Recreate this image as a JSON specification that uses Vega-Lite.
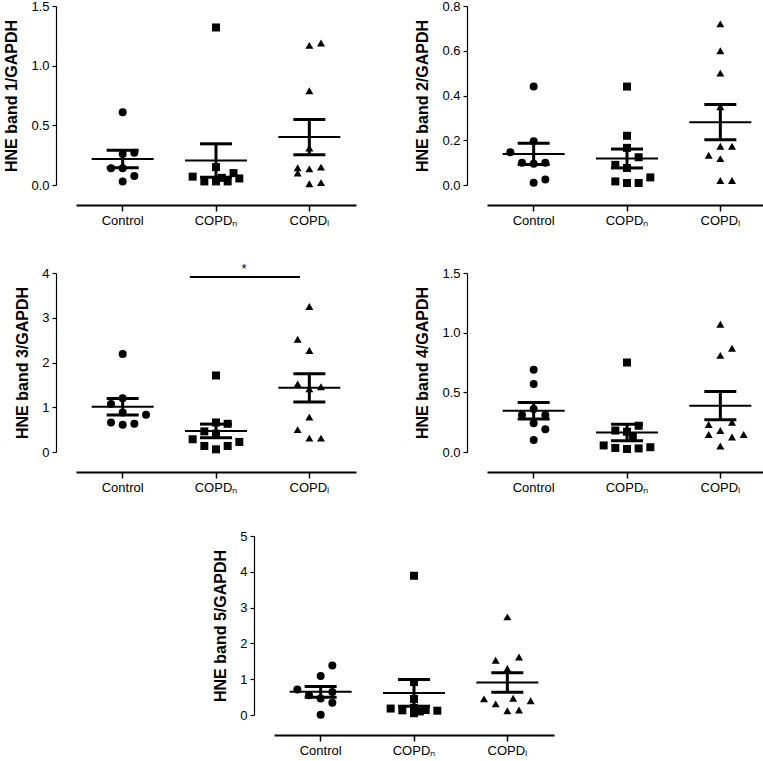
{
  "$schema": "https://vega.github.io/schema/vega-lite/v6.json",
  "padding": {"left": 3, "top": 0, "right": 0, "bottom": 0},
  "background": "white",
  "center": true,
  "spacing": 36,
  "config": {
    "view": {"stroke": null},
    "font": "Liberation Sans",
    "tick": {"opacity": 1},
    "axis": {"grid": false, "domainColor": "black", "tickColor": "black", "labelColor": "black", "titleColor": "black", "labelFont": "Liberation Sans", "titleFont": "Liberation Sans", "labelFontSize": 13, "titleFontSize": 16, "titleFontWeight": "bold", "offset": 20},
    "axisX": {"domainWidth": 2, "tickSize": 6, "tickWidth": 1.5, "labelPadding": 3, "labelAngle": 0},
    "axisY": {"domainWidth": 1.2, "tickSize": 4, "tickWidth": 1.2, "labelPadding": 3, "titlePadding": 11}
  },
  "vconcat": [
    {
      "spacing": 58,
      "hconcat": [
        {
          "width": 280, "height": 179,
          "data": {"values": [
            {"group": "Control", "jitter": 0, "value": 0.61},
            {"group": "Control", "jitter": 0, "value": 0.26},
            {"group": "Control", "jitter": 1, "value": 0.27},
            {"group": "Control", "jitter": -1, "value": 0.14},
            {"group": "Control", "jitter": 0, "value": 0.14},
            {"group": "Control", "jitter": 1, "value": 0.075},
            {"group": "Control", "jitter": 0, "value": 0.03},
            {"group": "COPDₙ", "jitter": 0, "value": 1.32},
            {"group": "COPDₙ", "jitter": -2, "value": 0.07},
            {"group": "COPDₙ", "jitter": -1, "value": 0.03},
            {"group": "COPDₙ", "jitter": 0, "value": 0.03},
            {"group": "COPDₙ", "jitter": 1, "value": 0.03},
            {"group": "COPDₙ", "jitter": 0, "value": 0.15},
            {"group": "COPDₙ", "jitter": 0.5, "value": 0.06},
            {"group": "COPDₙ", "jitter": 1.5, "value": 0.10},
            {"group": "COPDₙ", "jitter": 2, "value": 0.055},
            {"group": "COPDₗ", "jitter": 0, "value": 1.17},
            {"group": "COPDₗ", "jitter": 1, "value": 1.19},
            {"group": "COPDₗ", "jitter": 0, "value": 0.79},
            {"group": "COPDₗ", "jitter": 0, "value": 0.31},
            {"group": "COPDₗ", "jitter": -1, "value": 0.145},
            {"group": "COPDₗ", "jitter": -1, "value": 0.10},
            {"group": "COPDₗ", "jitter": 0, "value": 0.135},
            {"group": "COPDₗ", "jitter": 1, "value": 0.15},
            {"group": "COPDₗ", "jitter": 0, "value": 0.01},
            {"group": "COPDₗ", "jitter": 1, "value": 0.02}
          ]},
          "encoding": {
            "x": {"field": "group", "type": "nominal", "title": null, "scale": {"type": "band", "domain": ["Control", "COPDₙ", "COPDₗ"], "paddingInner": 0, "paddingOuter": 0}},
            "y": {"field": "value", "type": "quantitative", "title": "HNE band 1/GAPDH", "scale": {"domain": [0, 1.5]}, "axis": {"values": [0, 0.5, 1, 1.5], "format": ".1f"}}
          },
          "layer": [
            {"mark": {"type": "point", "filled": true, "size": 64, "color": "black", "opacity": 1},
             "encoding": {
               "xOffset": {"field": "jitter", "type": "quantitative", "scale": {"domain": [-4, 4]}},
               "shape": {"field": "group", "type": "nominal", "scale": {"domain": ["Control", "COPDₙ", "COPDₗ"], "range": ["circle", "square", "triangle-up"]}, "legend": null}
             }},
            {"mark": {"type": "tick", "size": 62, "thickness": 2, "color": "black", "opacity": 1},
             "encoding": {"y": {"aggregate": "mean", "field": "value", "type": "quantitative", "title": "HNE band 1/GAPDH"}}},
            {"mark": {"type": "errorbar", "extent": "stderr", "thickness": 3, "color": "black", "opacity": 1, "ticks": {"size": 32, "thickness": 3, "opacity": 1, "color": "black"}}, "encoding": {}}
          ]
        },
        {
          "width": 280, "height": 179,
          "data": {"values": [
            {"group": "Control", "jitter": 0, "value": 0.44},
            {"group": "Control", "jitter": -2, "value": 0.146},
            {"group": "Control", "jitter": 0, "value": 0.196},
            {"group": "Control", "jitter": -1, "value": 0.10},
            {"group": "Control", "jitter": 0, "value": 0.095},
            {"group": "Control", "jitter": 1, "value": 0.10},
            {"group": "Control", "jitter": 0, "value": 0.01},
            {"group": "Control", "jitter": 1, "value": 0.025},
            {"group": "COPDₙ", "jitter": 0, "value": 0.44},
            {"group": "COPDₙ", "jitter": 0, "value": 0.22},
            {"group": "COPDₙ", "jitter": 0, "value": 0.166},
            {"group": "COPDₙ", "jitter": 1, "value": 0.124},
            {"group": "COPDₙ", "jitter": -1, "value": 0.09},
            {"group": "COPDₙ", "jitter": 0, "value": 0.076},
            {"group": "COPDₙ", "jitter": -1, "value": 0.016},
            {"group": "COPDₙ", "jitter": 0, "value": 0.009},
            {"group": "COPDₙ", "jitter": 1, "value": 0.009},
            {"group": "COPDₙ", "jitter": 2, "value": 0.034},
            {"group": "COPDₗ", "jitter": 0, "value": 0.72},
            {"group": "COPDₗ", "jitter": 0, "value": 0.60},
            {"group": "COPDₗ", "jitter": 0, "value": 0.50},
            {"group": "COPDₗ", "jitter": 0, "value": 0.35},
            {"group": "COPDₗ", "jitter": -1, "value": 0.133},
            {"group": "COPDₗ", "jitter": 0, "value": 0.118},
            {"group": "COPDₗ", "jitter": 0, "value": 0.173},
            {"group": "COPDₗ", "jitter": 1, "value": 0.173},
            {"group": "COPDₗ", "jitter": 0, "value": 0.02},
            {"group": "COPDₗ", "jitter": 1, "value": 0.02}
          ]},
          "encoding": {
            "x": {"field": "group", "type": "nominal", "title": null, "scale": {"type": "band", "domain": ["Control", "COPDₙ", "COPDₗ"], "paddingInner": 0, "paddingOuter": 0}},
            "y": {"field": "value", "type": "quantitative", "title": "HNE band 2/GAPDH", "scale": {"domain": [0, 0.8]}, "axis": {"values": [0, 0.2, 0.4, 0.6, 0.8], "format": ".1f"}}
          },
          "layer": [
            {"mark": {"type": "point", "filled": true, "size": 64, "color": "black", "opacity": 1},
             "encoding": {
               "xOffset": {"field": "jitter", "type": "quantitative", "scale": {"domain": [-4, 4]}},
               "shape": {"field": "group", "type": "nominal", "scale": {"domain": ["Control", "COPDₙ", "COPDₗ"], "range": ["circle", "square", "triangle-up"]}, "legend": null}
             }},
            {"mark": {"type": "tick", "size": 62, "thickness": 2, "color": "black", "opacity": 1},
             "encoding": {"y": {"aggregate": "mean", "field": "value", "type": "quantitative", "title": "HNE band 2/GAPDH"}}},
            {"mark": {"type": "errorbar", "extent": "stderr", "thickness": 3, "color": "black", "opacity": 1, "ticks": {"size": 32, "thickness": 3, "opacity": 1, "color": "black"}}, "encoding": {}}
          ]
        }
      ]
    },
    {
      "spacing": 58,
      "hconcat": [
        {
          "width": 280, "height": 179,
          "data": {"values": [
            {"group": "Control", "jitter": 0, "value": 2.19},
            {"group": "Control", "jitter": -1, "value": 1.07},
            {"group": "Control", "jitter": 0, "value": 1.2},
            {"group": "Control", "jitter": 0, "value": 0.88},
            {"group": "Control", "jitter": -1, "value": 0.66},
            {"group": "Control", "jitter": 0, "value": 0.61},
            {"group": "Control", "jitter": 1, "value": 0.63},
            {"group": "Control", "jitter": 2, "value": 0.83},
            {"group": "COPDₙ", "jitter": 0, "value": 1.71},
            {"group": "COPDₙ", "jitter": 0, "value": 0.66},
            {"group": "COPDₙ", "jitter": 1, "value": 0.63},
            {"group": "COPDₙ", "jitter": -1, "value": 0.46},
            {"group": "COPDₙ", "jitter": 0, "value": 0.41},
            {"group": "COPDₙ", "jitter": -2, "value": 0.285},
            {"group": "COPDₙ", "jitter": 2, "value": 0.225},
            {"group": "COPDₙ", "jitter": -1, "value": 0.135},
            {"group": "COPDₙ", "jitter": 0, "value": 0.06},
            {"group": "COPDₙ", "jitter": 1, "value": 0.135},
            {"group": "COPDₗ", "jitter": 0, "value": 3.25},
            {"group": "COPDₗ", "jitter": -1, "value": 2.52},
            {"group": "COPDₗ", "jitter": 0, "value": 2.27},
            {"group": "COPDₗ", "jitter": -1, "value": 1.52},
            {"group": "COPDₗ", "jitter": 1, "value": 1.46},
            {"group": "COPDₗ", "jitter": 0, "value": 1.41},
            {"group": "COPDₗ", "jitter": 0, "value": 0.78},
            {"group": "COPDₗ", "jitter": -1, "value": 0.5},
            {"group": "COPDₗ", "jitter": 0, "value": 0.31},
            {"group": "COPDₗ", "jitter": 1, "value": 0.31}
          ]},
          "encoding": {
            "x": {"field": "group", "type": "nominal", "title": null, "scale": {"type": "band", "domain": ["Control", "COPDₙ", "COPDₗ"], "paddingInner": 0, "paddingOuter": 0}},
            "y": {"field": "value", "type": "quantitative", "title": "HNE band 3/GAPDH", "scale": {"domain": [0, 4]}, "axis": {"values": [0, 1, 2, 3, 4], "format": "d"}}
          },
          "layer": [
            {"mark": {"type": "point", "filled": true, "size": 64, "color": "black", "opacity": 1},
             "encoding": {
               "xOffset": {"field": "jitter", "type": "quantitative", "scale": {"domain": [-4, 4]}},
               "shape": {"field": "group", "type": "nominal", "scale": {"domain": ["Control", "COPDₙ", "COPDₗ"], "range": ["circle", "square", "triangle-up"]}, "legend": null}
             }},
            {"mark": {"type": "tick", "size": 62, "thickness": 2, "color": "black", "opacity": 1},
             "encoding": {"y": {"aggregate": "mean", "field": "value", "type": "quantitative", "title": "HNE band 3/GAPDH"}}},
            {"mark": {"type": "errorbar", "extent": "stderr", "thickness": 3, "color": "black", "opacity": 1, "ticks": {"size": 32, "thickness": 3, "opacity": 1, "color": "black"}}, "encoding": {}},
            {"data": {"values": [{"group": "COPDₙ", "group2": "COPDₗ", "value": 3.91, "textpos": 4.08, "label": "*"}]},
             "mark": {"type": "rule", "strokeWidth": 2, "color": "black"},
             "encoding": {
               "x": {"field": "group", "type": "nominal", "bandPosition": 0.22},
               "x2": {"field": "group2", "bandPosition": 0.4},
               "y": {"field": "value", "type": "quantitative", "title": "HNE band 3/GAPDH"}
             }},
            {"data": {"values": [{"group": "COPDₙ", "group2": "COPDₗ", "value": 3.91, "textpos": 4.08, "label": "*"}]},
             "mark": {"type": "text", "fontSize": 13, "baseline": "middle", "color": "black"},
             "encoding": {
               "x": {"field": "group", "type": "nominal", "bandPosition": 0.8},
               "y": {"field": "textpos", "type": "quantitative", "title": "HNE band 3/GAPDH"},
               "text": {"field": "label"}
             }}
          ]
        },
        {
          "width": 280, "height": 179,
          "data": {"values": [
            {"group": "Control", "jitter": 0, "value": 0.69},
            {"group": "Control", "jitter": 0, "value": 0.57},
            {"group": "Control", "jitter": -1, "value": 0.31},
            {"group": "Control", "jitter": 0, "value": 0.36},
            {"group": "Control", "jitter": 1, "value": 0.31},
            {"group": "Control", "jitter": 0, "value": 0.24},
            {"group": "Control", "jitter": 1, "value": 0.19},
            {"group": "Control", "jitter": 0, "value": 0.10},
            {"group": "COPDₙ", "jitter": 0, "value": 0.75},
            {"group": "COPDₙ", "jitter": -1, "value": 0.18},
            {"group": "COPDₙ", "jitter": 0, "value": 0.17},
            {"group": "COPDₙ", "jitter": 1, "value": 0.22},
            {"group": "COPDₙ", "jitter": 0.5, "value": 0.13},
            {"group": "COPDₙ", "jitter": -2, "value": 0.055},
            {"group": "COPDₙ", "jitter": -1, "value": 0.034},
            {"group": "COPDₙ", "jitter": 0, "value": 0.025},
            {"group": "COPDₙ", "jitter": 1, "value": 0.03},
            {"group": "COPDₙ", "jitter": 2, "value": 0.04},
            {"group": "COPDₗ", "jitter": 0, "value": 1.07},
            {"group": "COPDₗ", "jitter": 0, "value": 0.81},
            {"group": "COPDₗ", "jitter": 1, "value": 0.87},
            {"group": "COPDₗ", "jitter": -1, "value": 0.23},
            {"group": "COPDₗ", "jitter": 1, "value": 0.25},
            {"group": "COPDₗ", "jitter": -1, "value": 0.146},
            {"group": "COPDₗ", "jitter": 0, "value": 0.18},
            {"group": "COPDₗ", "jitter": 1, "value": 0.126},
            {"group": "COPDₗ", "jitter": 2, "value": 0.146},
            {"group": "COPDₗ", "jitter": 0, "value": 0.05}
          ]},
          "encoding": {
            "x": {"field": "group", "type": "nominal", "title": null, "scale": {"type": "band", "domain": ["Control", "COPDₙ", "COPDₗ"], "paddingInner": 0, "paddingOuter": 0}},
            "y": {"field": "value", "type": "quantitative", "title": "HNE band 4/GAPDH", "scale": {"domain": [0, 1.5]}, "axis": {"values": [0, 0.5, 1, 1.5], "format": ".1f"}}
          },
          "layer": [
            {"mark": {"type": "point", "filled": true, "size": 64, "color": "black", "opacity": 1},
             "encoding": {
               "xOffset": {"field": "jitter", "type": "quantitative", "scale": {"domain": [-4, 4]}},
               "shape": {"field": "group", "type": "nominal", "scale": {"domain": ["Control", "COPDₙ", "COPDₗ"], "range": ["circle", "square", "triangle-up"]}, "legend": null}
             }},
            {"mark": {"type": "tick", "size": 62, "thickness": 2, "color": "black", "opacity": 1},
             "encoding": {"y": {"aggregate": "mean", "field": "value", "type": "quantitative", "title": "HNE band 4/GAPDH"}}},
            {"mark": {"type": "errorbar", "extent": "stderr", "thickness": 3, "color": "black", "opacity": 1, "ticks": {"size": 32, "thickness": 3, "opacity": 1, "color": "black"}}, "encoding": {}}
          ]
        }
      ]
    },
    {
      "spacing": 0,
      "hconcat": [
        {
          "width": 280, "height": 179,
          "data": {"values": [
            {"group": "Control", "jitter": 1, "value": 1.38},
            {"group": "Control", "jitter": 0, "value": 1.09},
            {"group": "Control", "jitter": -2, "value": 0.71},
            {"group": "Control", "jitter": -1, "value": 0.55},
            {"group": "Control", "jitter": 0, "value": 0.46},
            {"group": "Control", "jitter": 1, "value": 0.64},
            {"group": "Control", "jitter": 1, "value": 0.34},
            {"group": "Control", "jitter": 0, "value": 0.01},
            {"group": "COPDₙ", "jitter": 0, "value": 3.89},
            {"group": "COPDₙ", "jitter": 0, "value": 0.92},
            {"group": "COPDₙ", "jitter": 0, "value": 0.45},
            {"group": "COPDₙ", "jitter": -2, "value": 0.18},
            {"group": "COPDₙ", "jitter": -1, "value": 0.13},
            {"group": "COPDₙ", "jitter": 0, "value": 0.2},
            {"group": "COPDₙ", "jitter": 0, "value": 0.05},
            {"group": "COPDₙ", "jitter": 1, "value": 0.14},
            {"group": "COPDₙ", "jitter": 2, "value": 0.12},
            {"group": "COPDₙ", "jitter": 0.5, "value": 0.10},
            {"group": "COPDₗ", "jitter": 0, "value": 2.74},
            {"group": "COPDₗ", "jitter": -1, "value": 1.53},
            {"group": "COPDₗ", "jitter": 1, "value": 1.62},
            {"group": "COPDₗ", "jitter": 0, "value": 1.30},
            {"group": "COPDₗ", "jitter": -2, "value": 0.45},
            {"group": "COPDₗ", "jitter": -1, "value": 0.31},
            {"group": "COPDₗ", "jitter": 0.5, "value": 0.47},
            {"group": "COPDₗ", "jitter": 2, "value": 0.40},
            {"group": "COPDₗ", "jitter": 0, "value": 0.12},
            {"group": "COPDₗ", "jitter": 1, "value": 0.14}
          ]},
          "encoding": {
            "x": {"field": "group", "type": "nominal", "title": null, "scale": {"type": "band", "domain": ["Control", "COPDₙ", "COPDₗ"], "paddingInner": 0, "paddingOuter": 0}},
            "y": {"field": "value", "type": "quantitative", "title": "HNE band 5/GAPDH", "scale": {"domain": [0, 5]}, "axis": {"values": [0, 1, 2, 3, 4, 5], "format": "d"}}
          },
          "layer": [
            {"mark": {"type": "point", "filled": true, "size": 64, "color": "black", "opacity": 1},
             "encoding": {
               "xOffset": {"field": "jitter", "type": "quantitative", "scale": {"domain": [-4, 4]}},
               "shape": {"field": "group", "type": "nominal", "scale": {"domain": ["Control", "COPDₙ", "COPDₗ"], "range": ["circle", "square", "triangle-up"]}, "legend": null}
             }},
            {"mark": {"type": "tick", "size": 62, "thickness": 2, "color": "black", "opacity": 1},
             "encoding": {"y": {"aggregate": "mean", "field": "value", "type": "quantitative", "title": "HNE band 5/GAPDH"}}},
            {"mark": {"type": "errorbar", "extent": "stderr", "thickness": 3, "color": "black", "opacity": 1, "ticks": {"size": 32, "thickness": 3, "opacity": 1, "color": "black"}}, "encoding": {}}
          ]
        },
        {
          "width": 15, "height": 179,
          "data": {"values": []},
          "mark": {"type": "point", "opacity": 0},
          "encoding": {}
        }
      ]
    }
  ]
}
